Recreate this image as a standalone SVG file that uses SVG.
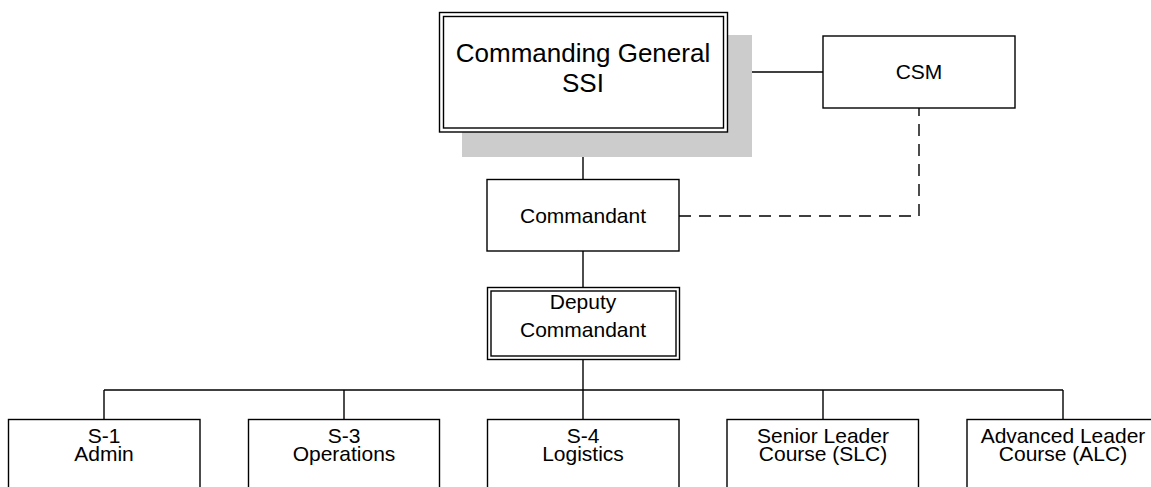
<svg xmlns="http://www.w3.org/2000/svg" width="1151" height="487" viewBox="0 0 1151 487">
<style>
.box{fill:#fff;stroke:#000;stroke-width:1.4}
.ln{fill:none;stroke:#000;stroke-width:1.4}
.dash{fill:none;stroke:#000;stroke-width:1.4;stroke-dasharray:12 8}
.t{font-family:"Liberation Sans",Arial,sans-serif;font-size:21px;fill:#000;text-anchor:middle}
.tb{font-family:"Liberation Sans",Arial,sans-serif;font-size:26px;fill:#000;text-anchor:middle}
</style>
<rect width="1151" height="487" fill="#fff"/>
<g id="connectors">
<line class="ln" x1="727" y1="72" x2="823" y2="72"/>
<line class="ln" x1="583" y1="132" x2="583" y2="179.5"/>
<polyline class="dash" points="679,216 919,216 919,108"/>
<line class="ln" x1="583" y1="251" x2="583" y2="287.5"/>
<line class="ln" x1="583" y1="359.5" x2="583" y2="390"/>
<line class="ln" x1="104" y1="390" x2="1063" y2="390"/>
<line class="ln" x1="104" y1="390" x2="104" y2="419.5"/>
<line class="ln" x1="344" y1="390" x2="344" y2="419.5"/>
<line class="ln" x1="583" y1="390" x2="583" y2="419.5"/>
<line class="ln" x1="823" y1="390" x2="823" y2="419.5"/>
<line class="ln" x1="1063" y1="390" x2="1063" y2="419.5"/>
</g>
<g id="cg">
<rect x="462" y="35" width="290" height="122" fill="#cccccc"/>
<rect class="box" x="439.5" y="12.5" width="288" height="119.5"/>
<rect class="box" x="443.5" y="16.5" width="280" height="111.5"/>
<text class="tb" x="583" y="62">Commanding General</text>
<text class="tb" x="583" y="92">SSI</text>
</g>
<g id="csm">
<rect class="box" x="823" y="36" width="192" height="72"/>
<text class="t" x="919" y="79">CSM</text>
</g>
<g id="commandant">
<rect class="box" x="487" y="179.5" width="192" height="71.5"/>
<text class="t" x="583" y="222.5">Commandant</text>
</g>
<g id="deputy">
<rect class="box" x="487.5" y="287.5" width="192" height="72"/>
<rect class="box" x="491" y="291" width="185" height="65"/>
<text class="t" x="583" y="309">Deputy</text>
<text class="t" x="583" y="337">Commandant</text>
</g>
<g id="s1">
<rect class="box" x="8.5" y="419.5" width="191.5" height="80"/>
<text class="t" x="104" y="443">S-1</text>
<text class="t" x="104" y="461">Admin</text>
</g>
<g id="s3">
<rect class="box" x="248.5" y="419.5" width="191" height="80"/>
<text class="t" x="344" y="443">S-3</text>
<text class="t" x="344" y="461">Operations</text>
</g>
<g id="s4">
<rect class="box" x="487.5" y="419.5" width="191.5" height="80"/>
<text class="t" x="583" y="443">S-4</text>
<text class="t" x="583" y="461">Logistics</text>
</g>
<g id="slc">
<rect class="box" x="727" y="419.5" width="191.5" height="80"/>
<text class="t" x="823" y="443">Senior Leader</text>
<text class="t" x="823" y="461">Course (SLC)</text>
</g>
<g id="alc">
<rect class="box" x="967" y="419.5" width="191.5" height="80"/>
<text class="t" x="1063" y="443">Advanced Leader</text>
<text class="t" x="1063" y="461">Course (ALC)</text>
</g>
</svg>
